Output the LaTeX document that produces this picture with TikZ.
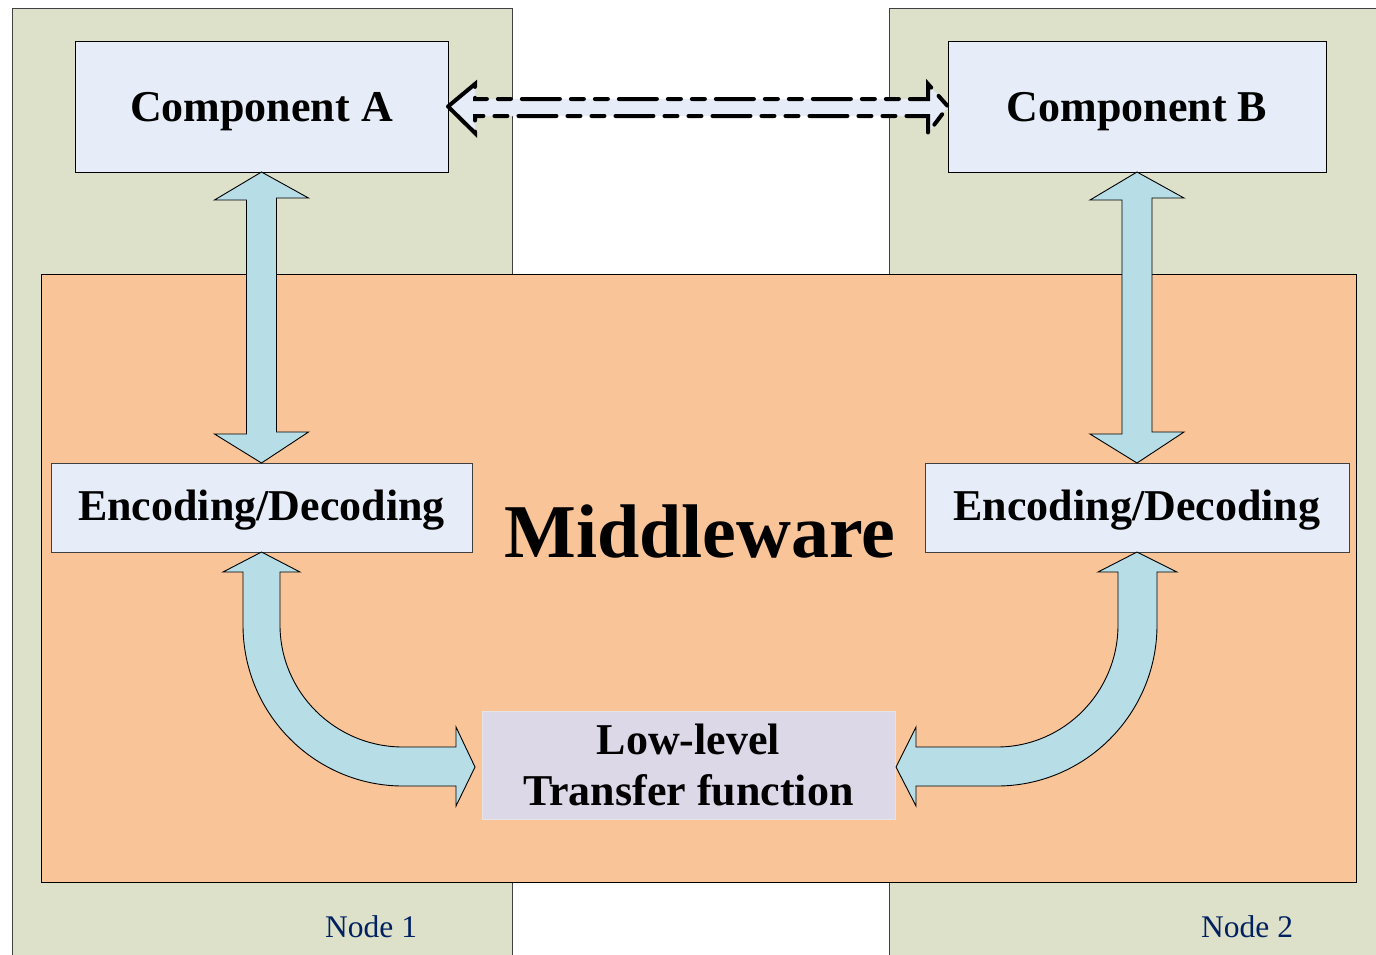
\documentclass[tikz,border=0pt]{standalone}
\usepackage{fontspec}
\setmainfont{Liberation Serif}
\definecolor{panelfill}{RGB}{221,225,201}
\definecolor{panelline}{RGB}{64,64,64}
\definecolor{mwfill}{RGB}{248,196,152}
\definecolor{compfill}{RGB}{230,237,248}
\definecolor{lowfill}{RGB}{220,216,232}
\definecolor{arrowfill}{RGB}{183,221,231}
\definecolor{navy}{RGB}{0,32,96}
\tikzset{
  box/.style={draw=black, line width=0.9pt, inner sep=0pt, outer sep=0pt, anchor=north west},
  panelbox/.style={box, draw=panelline, fill=panelfill},
  compbox/.style={box, fill=compfill, text height=32pt, text depth=3pt, font=\fontsize{44}{52}\selectfont\bfseries},
  encbox/.style={box, draw=panelline, fill=compfill, text height=31pt, text depth=5pt, font=\fontsize{44}{52}\selectfont\bfseries},
  lowbox/.style={box, draw=white!90!black, fill=lowfill, align=center, font=\fontsize{44}{51}\selectfont\bfseries},
  blockarrow/.style={draw=black, line width=0.9pt, fill=arrowfill, line join=miter},
  dasharrow/.style={draw=black, line width=4pt, fill=compfill, line cap=round, line join=miter,
    dash pattern=on 38pt off 11pt on 13pt off 11pt on 13pt off 11pt},
  nodelabel/.style={anchor=base west, inner sep=0pt, text=navy, font=\fontsize{31.5}{36}\selectfont}
}
\begin{document}
\begin{tikzpicture}[x=1pt,y=-1pt]
\useasboundingbox (0,0) rectangle (1376,954);
\clip (0,0) rectangle (1376,954);
% panels
\node[panelbox, minimum width=500pt, minimum height=962pt] (node1) at (12,8) {};
\node[panelbox, minimum width=501pt, minimum height=962pt] (node2) at (889,8) {};
% middleware
\node[box, fill=mwfill, minimum width=1315pt, minimum height=608pt] (mw) at (41,274) {};
\node[anchor=base, inner sep=0pt, font=\fontsize{76}{80}\selectfont\bfseries] (mwtext) at (700,557) {Middleware};
% components
\node[compbox, minimum width=373pt, minimum height=131pt] (compA) at (75,41) {Component A};
\node[compbox, minimum width=378pt, minimum height=131pt] (compB) at (948,41) {Component B};
% encoders
\node[encbox, minimum width=421pt, minimum height=89pt] (encA) at (51,463) {Encoding/Decoding};
\node[encbox, minimum width=424pt, minimum height=89pt] (encB) at (925,463) {Encoding/Decoding};
% low-level
\node[lowbox, minimum width=413pt, minimum height=108pt] (low) at (482,711) {Low-level\\Transfer function};
% node labels
\node[nodelabel] (lab1) at (325,937) {Node 1};
\node[nodelabel] (lab2) at (1201,937) {Node 2};
% vertical double arrows
\draw[blockarrow] (compA.south) -- ++(47,26) -- ++(-32,0) -- ++(0,234) -- ++(32,0) -- (encA.north)
  -- ++(-47,-29) -- ++(32,0) -- ++(0,-234) -- ++(-32,0) -- cycle;
\draw[blockarrow] (compB.south) -- ++(47,26) -- ++(-32,0) -- ++(0,234) -- ++(32,0) -- (encB.north)
  -- ++(-47,-29) -- ++(32,0) -- ++(0,-234) -- ++(-32,0) -- cycle;
% curved arrows
\coordinate (tipL) at ([xshift=-7pt,yshift=-2pt]low.west);
\coordinate (tipR) at ([xshift=1pt,yshift=-2pt]low.east);
\draw[blockarrow] (encA.south) -- (300,572) -- (280,572) -- (280,625)
  .. controls (280,692) and (335,747) .. (403,747) -- (456,747) -- (456,727) -- (tipL)
  -- (456,806) -- (456,786) -- (403,786)
  .. controls (315,786) and (243,714) .. (243,625) -- (243,572) -- (223,572) -- cycle;
\draw[blockarrow] (encB.south) -- (1177,572) -- (1157,572) -- (1157,625)
  .. controls (1157,714) and (1085,786) .. (997,786) -- (916,786) -- (916,806) -- (tipR)
  -- (916,727) -- (916,747) -- (997,747)
  .. controls (1064,747) and (1118,692) .. (1118,625) -- (1118,572) -- (1098,572) -- cycle;
% dashed double arrow
\draw[dasharrow] (compA.east) -- (475,84) -- (475,99) -- (928,99) -- (928,84) -- (compB.west)
  -- (928,133) -- (928,116) -- (475,116) -- (475,133) -- cycle;
\end{tikzpicture}
\end{document}
